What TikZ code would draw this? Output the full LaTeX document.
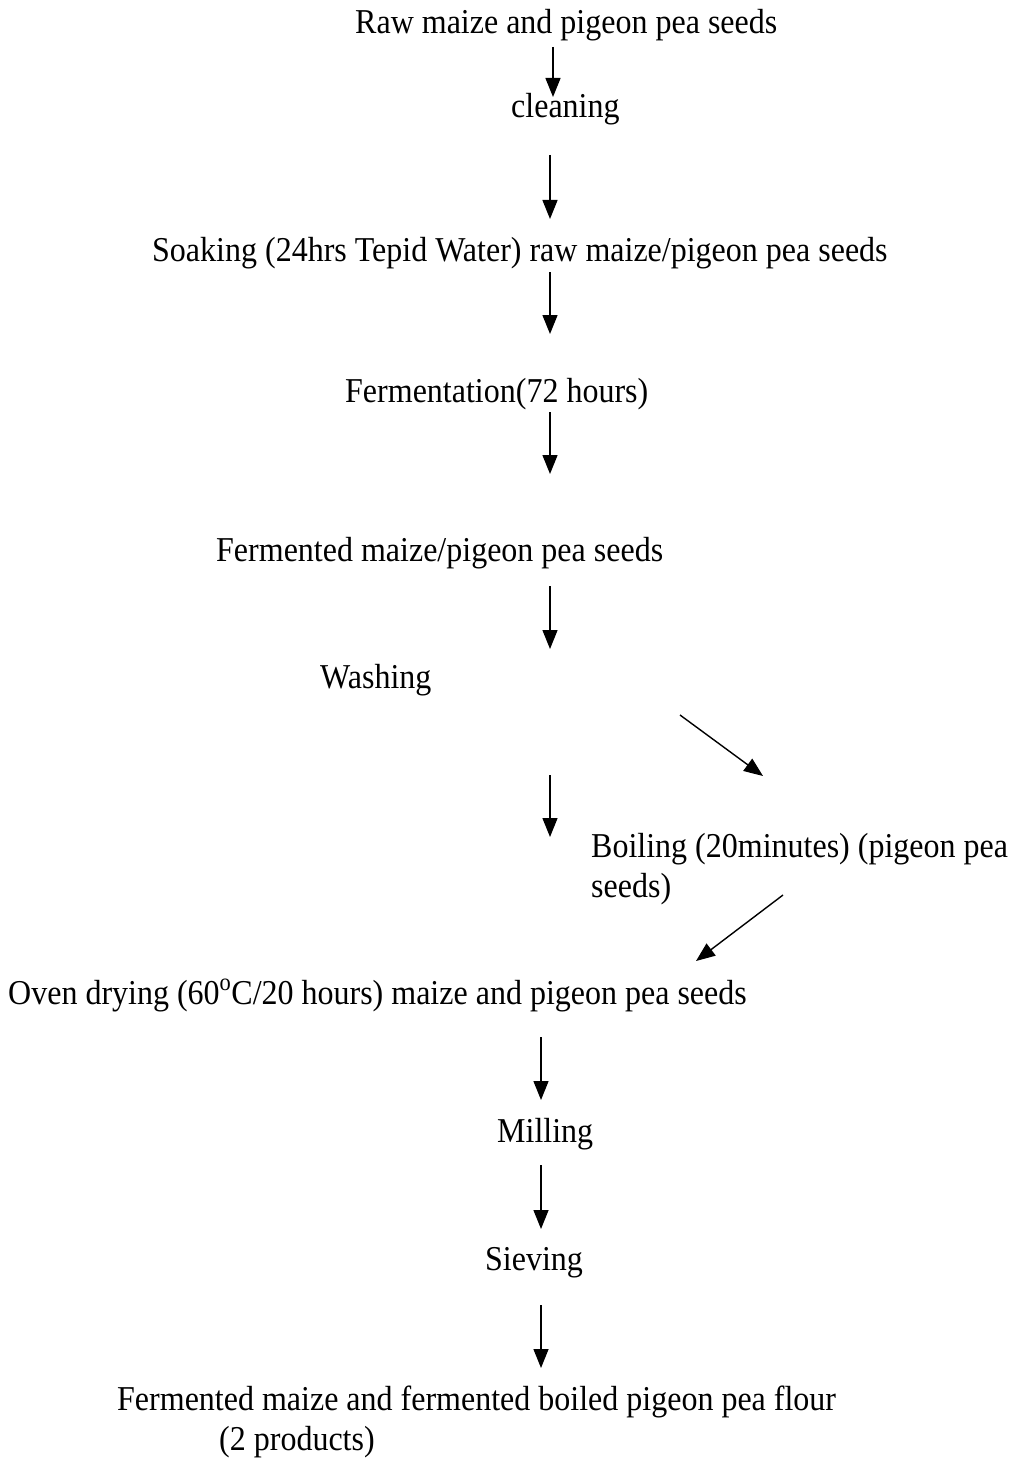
\documentclass[tikz,border=0pt]{standalone}
\usepackage{fontspec}
\usepackage{graphicx}
\setmainfont{Liberation Serif}
\usetikzlibrary{arrows.meta}
% slightly condensed, tall lettering
\newcommand{\tallt}[1]{\scalebox{1}[1.09]{#1}}
\begin{document}
\begin{tikzpicture}[x=1pt,y=-1pt,
  lbl/.style={anchor=base west,inner sep=0pt,font=\fontsize{32}{40}\selectfont},
  flow/.style={line width=1.4pt,-{Triangle[width=15pt,length=19pt]}}]
\useasboundingbox[fill=white] (0,0) rectangle (1013,1458);

% process steps
\node[lbl] (raw)   at (355,34)  {\tallt{Raw maize and pigeon pea seeds}};
\node[lbl] (clean) at (511,118) {\tallt{cleaning}};
\node[lbl] (soak)  at (152,261) {\tallt{Soaking (24hrs Tepid Water) raw maize/pigeon pea seeds}};
\node[lbl] (ferm)  at (345,402) {\tallt{Fermentation(72 hours)}};
\node[lbl] (fseed) at (216,561) {\tallt{Fermented maize/pigeon pea seeds}};
\node[lbl] (wash)  at (320,688) {\tallt{Washing}};
\node[lbl] (boil)  at (591,857) {\tallt{Boiling (20minutes) (pigeon pea}};
\node[lbl] (boil2) at (591,897) {\tallt{seeds)}};
\node[lbl] (oven)  at (8,1004)  {\tallt{Oven drying (60\raisebox{0.25ex}{\textsuperscript{o}}C/20 hours) maize and pigeon pea seeds}};
\node[lbl] (mill)  at (497,1142) {\tallt{Milling}};
\node[lbl] (sieve) at (485,1270) {\tallt{Sieving}};
\node[lbl] (flour) at (117,1410) {\tallt{Fermented maize and fermented boiled pigeon pea flour}};
\node[lbl] (prod)  at (219,1450) {\tallt{(2 products)}};

% arrow end points
\coordinate (a1s) at (553,47);   \coordinate (a1e) at (553,97);
\coordinate (a2s) at (550,155);  \coordinate (a2e) at (550,219);
\coordinate (a3s) at (550,272);  \coordinate (a3e) at (550,334);
\coordinate (a4s) at (550,412);  \coordinate (a4e) at (550,474);
\coordinate (a5s) at (550,586);  \coordinate (a5e) at (550,649);
\coordinate (b1s) at (680,715);  \coordinate (b1e) at (763,776);
\coordinate (a6s) at (550,775);  \coordinate (a6e) at (550,837);
\coordinate (b2s) at (783,895);  \coordinate (b2e) at (696,961);
\coordinate (a7s) at (541,1037); \coordinate (a7e) at (541,1100);
\coordinate (a8s) at (541,1165); \coordinate (a8e) at (541,1229);
\coordinate (a9s) at (541,1305); \coordinate (a9e) at (541,1368);

\draw[flow] (a1s) -- (a1e);
\draw[flow] (a2s) -- (a2e);
\draw[flow] (a3s) -- (a3e);
\draw[flow] (a4s) -- (a4e);
\draw[flow] (a5s) -- (a5e);
\draw[flow] (b1s) -- (b1e);
\draw[flow] (a6s) -- (a6e);
\draw[flow] (b2s) -- (b2e);
\draw[flow] (a7s) -- (a7e);
\draw[flow] (a8s) -- (a8e);
\draw[flow] (a9s) -- (a9e);
\end{tikzpicture}
\end{document}
